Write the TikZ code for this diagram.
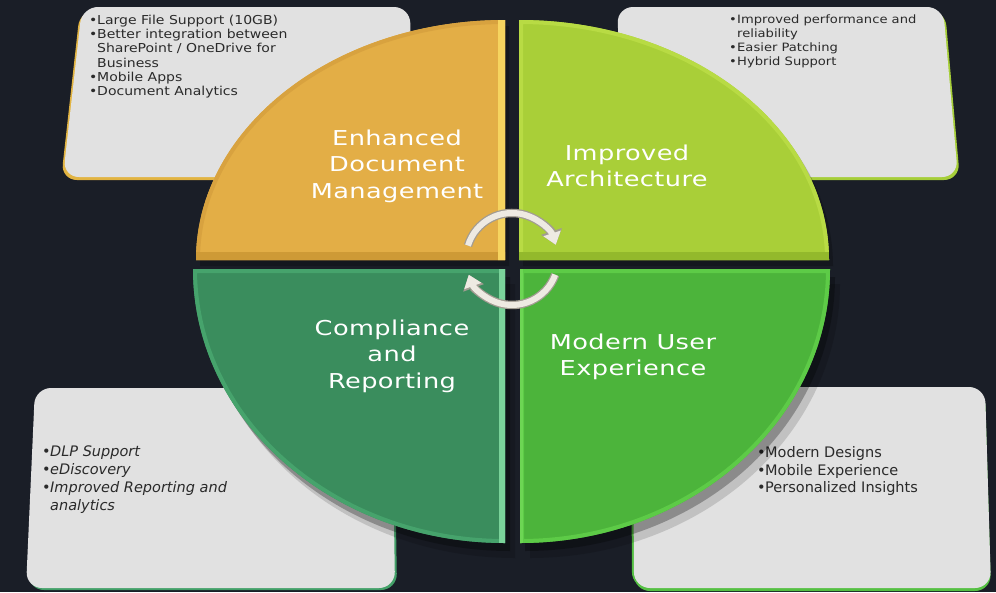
\documentclass[tikz,border=0pt]{standalone}
\usepackage{fontspec}
\setmainfont{DejaVu Sans}
\newfontfamily\boxfont{DejaVu Sans}[FakeStretch=1.14]
\newfontfamily\boxitfont{DejaVu Sans Oblique}
\newfontfamily\labfont{DejaVu Sans}[FakeStretch=1.25,LetterSpace=2]
\usetikzlibrary{arrows.meta}
\definecolor{bg}{HTML}{1A1E27}
\definecolor{boxgrey}{HTML}{E1E1E1}
\definecolor{boxtext}{HTML}{2A2A2A}
\definecolor{qorange}{HTML}{E3AE46}
\definecolor{qorangerim}{HTML}{D8A23F}
\definecolor{qorangehi}{HTML}{F6D45F}
\definecolor{qorangelo}{HTML}{CE9A36}
\definecolor{qlime}{HTML}{A9CF38}
\definecolor{qlimerim}{HTML}{B8DB44}
\definecolor{qlimelo}{HTML}{93B92C}
\definecolor{qdark}{HTML}{3A8D5D}
\definecolor{qdarkrim}{HTML}{46A36C}
\definecolor{qdarkhi}{HTML}{7AD39A}
\definecolor{qgreen}{HTML}{4CB43B}
\definecolor{qgreenrim}{HTML}{5DCB47}
\definecolor{qgreenhi}{HTML}{6DD654}
\definecolor{rimgold}{HTML}{E2B442}
\definecolor{rimlime}{HTML}{A6CE39}
\definecolor{rimdark}{HTML}{43A068}
\definecolor{rimgreen}{HTML}{55C043}
\definecolor{arrowfill}{HTML}{EEEAE2}
\definecolor{arrowedge}{HTML}{A29C92}
\tikzset{
  pTL/.style={insert path={(82,7) -- (410,7) -- (413,177) -- (63,177) -- cycle}},
  pTR/.style={insert path={(617,7) -- (943,7) -- (958,177) -- (625,177) -- cycle}},
  pBL/.style={insert path={(35,388) -- (392,388) -- (395,588) -- (26,588) -- cycle}},
  pBR/.style={insert path={(633,387) -- (985,387) -- (991,588) -- (634,588) -- cycle}},
  qO/.style={insert path={(196,260) arc[start angle=180,end angle=90,x radius=309pt,y radius=240pt] -- (505,260) -- cycle}},
  qL/.style={insert path={(519,20) arc[start angle=90,end angle=0,x radius=310pt,y radius=240pt] -- (519,260) -- cycle}},
  qD/.style={insert path={(193,269) arc[start angle=180,end angle=270,x radius=312pt,y radius=274pt] -- (505,269) -- cycle}},
  qG/.style={insert path={(520,543) arc[start angle=270,end angle=360,x radius=310pt,y radius=274pt] -- (520,269) -- cycle}},
  boxshape/.style={rounded corners=16pt},
  smalltext/.style={font=\boxfont\fontsize{11.5}{14}\selectfont, text=boxtext, align=left, inner sep=0pt, anchor=north west},
  bigtext/.style={font=\fontsize{14.5}{17.8}\selectfont, text=boxtext, align=left, inner sep=0pt, anchor=north west},
  labeltext/.style={font=\labfont\fontsize{20.5}{26.5}\selectfont, text=white, align=center, inner sep=0pt},
  arrowunder/.style={line width=8.5pt, arrowedge, -{Triangle[length=14pt,width=21pt]}},
  arrowover/.style={line width=6pt, arrowfill, -{Triangle[length=12pt,width=17.5pt]}},
}
\newcommand\bul{\makebox[8pt][l]{•}}
\newcommand\ind{\hspace*{8pt}}
\begin{document}
\begin{tikzpicture}[x=1pt,y=-1pt]
\fill[bg] (0,0) rectangle (996,592);
\useasboundingbox (0,0) rectangle (996,592);

% ---- grey boxes with coloured rims
\begin{scope}[shift={(-2,3)}]\fill[rimgold, boxshape, pTL];\end{scope}
\fill[boxgrey, boxshape, pTL];
\begin{scope}[shift={(2,3)}]\fill[rimlime, boxshape, pTR];\end{scope}
\fill[boxgrey, boxshape, pTR];
\begin{scope}[shift={(2,2)}]\fill[rimdark, boxshape, pBL];\end{scope}
\fill[boxgrey, boxshape, pBL];
\begin{scope}[shift={(0,3)}]\fill[rimgreen, boxshape, pBR];\end{scope}
\begin{scope}[shift={(-2,0)}]\fill[rimgreen, boxshape, pBR];\end{scope}
\fill[boxgrey, boxshape, pBR];

% ---- box texts
\node[smalltext, font=\boxfont\fontsize{12.3}{14.2}\selectfont] (tTL) at (89,15) {\bul Large File Support (10GB)\\
\bul Better integration between\\
\ind SharePoint / OneDrive for\\
\ind Business\\
\bul Mobile Apps\\
\bul Document Analytics};
\node[smalltext] (tTR) at (729,15) {\bul Improved performance and\\
\ind reliability\\
\bul Easier Patching\\
\bul Hybrid Support};
\node[bigtext, font=\boxitfont\fontsize{14.5}{17.8}\selectfont] (tBL) at (42,446) {\bul DLP Support\\
\bul eDiscovery\\
\bul Improved Reporting and\\
\ind analytics};
\node[bigtext] (tBR) at (757,446) {\bul Modern Designs\\
\bul Mobile Experience\\
\bul Personalized Insights};

% ---- shadows of the disc
\begin{scope}[shift={(4,6)}]
  \fill[black, opacity=.22, qO];
  \fill[black, opacity=.22, qL];
\end{scope}
\begin{scope}[shift={(10,15)}]
  \fill[black, opacity=.14, qD];
  \fill[black, opacity=.14, qG];
\end{scope}
\begin{scope}[shift={(5,8)}]
  \fill[black, opacity=.28, qD];
  \fill[black, opacity=.28, qG];
\end{scope}

% ---- quadrants
\fill[qorange, qO];
\begin{scope}
  \clip[qO];
  \draw[qorangerim, line width=8pt, qO];
  \fill[qorangelo] (150,252) rectangle (510,262);
  \fill[qorangehi] (498,0) rectangle (510,262);
\end{scope}
\fill[qlime, qL];
\begin{scope}
  \clip[qL];
  \draw[qlimerim, line width=8pt, qL];
  \fill[qlimelo] (515,252) rectangle (880,262);
\end{scope}
\fill[qdark, qD];
\begin{scope}
  \clip[qD];
  \draw[qdarkrim, line width=8pt, qD];
  \fill[qdarkhi] (499,265) rectangle (510,560);
\end{scope}
\fill[qgreen, qG];
\begin{scope}
  \clip[qG];
  \draw[qgreenrim, line width=8pt, qG];
  \fill[qgreenhi] (515,265) rectangle (523,560);
\end{scope}

% ---- quadrant labels
\node[labeltext] (lEDM) at (397,166) {Enhanced\\Document\\Management};
\node[labeltext] (lIA) at (627,166) {Improved\\Architecture};
\node[labeltext] (lCR) at (392,356) {Compliance\\and\\Reporting};
\node[labeltext] (lMUE) at (633,357) {Modern User\\Experience};

% ---- circular arrows
\coordinate (ac) at (512,259);
\draw[arrowunder] ([shift={(163:46pt)}]ac) arc[start angle=163,end angle=18,radius=46pt];
\draw[arrowover] ([shift={(163:46pt)}]ac) arc[start angle=163,end angle=18,radius=46pt];
\draw[arrowunder] ([shift={(-20:46pt)}]ac) arc[start angle=-20,end angle=-160,radius=46pt];
\draw[arrowover] ([shift={(-20:46pt)}]ac) arc[start angle=-20,end angle=-160,radius=46pt];
\end{tikzpicture}
\end{document}
